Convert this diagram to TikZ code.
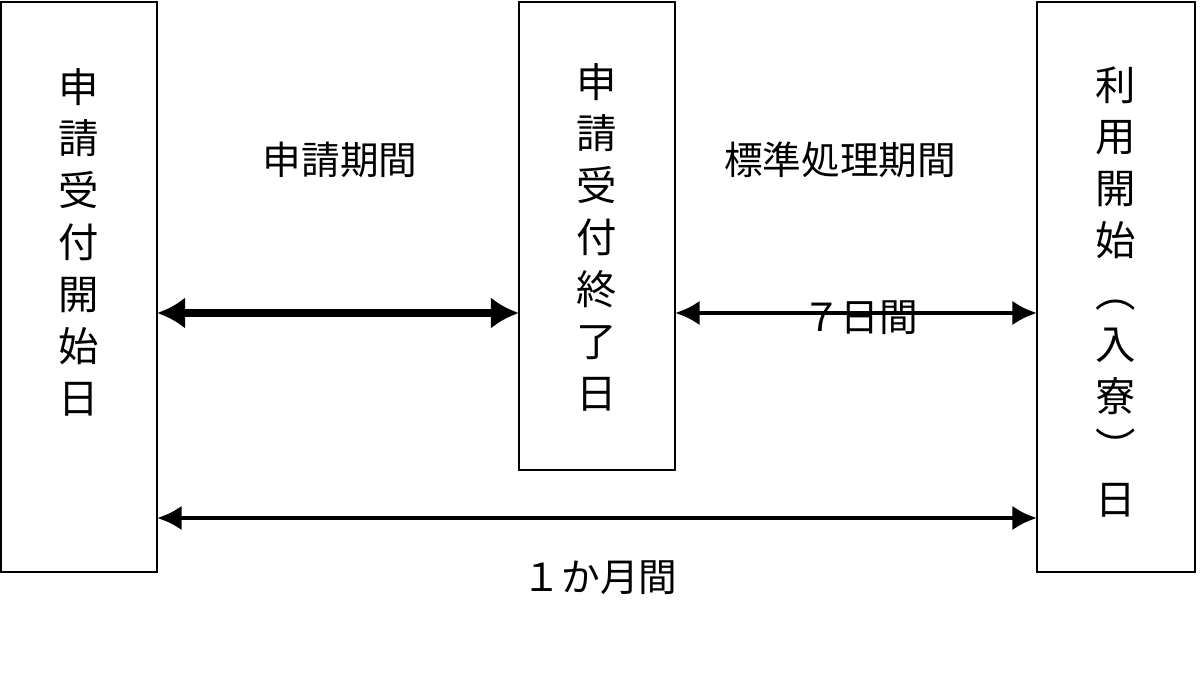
\documentclass[tikz,border=0pt]{standalone}
\usepackage{fontspec}
\setmainfont{Noto Sans CJK JP}
\usetikzlibrary{arrows.meta, positioning}

\begin{document}
\begin{tikzpicture}[x=0.02cm, y=-0.02cm,
  daybox/.style={draw=black, line width=1.6pt},
  vtext/.style={align=center, font=\fontsize{23}{29.5}\selectfont},
  label/.style={font=\fontsize{22}{26}\selectfont},
  thickarrow/.style={{Latex[length=16pt,width=18pt]}-{Latex[length=16pt,width=18pt]}, line width=5pt},
  thinarrow/.style={{Latex[length=14pt,width=14pt]}-{Latex[length=14pt,width=14pt]}, line width=2.5pt}
]
\useasboundingbox (0,0) rectangle (1200,678);

% boxes
\draw[daybox] (1,2) rectangle (157,572);
\draw[daybox] (519,2) rectangle (675,470);
\draw[daybox] (1037,2) rectangle (1195,572);

\node[vtext] (start) at (79,242) {申\\請\\受\\付\\開\\始\\日};
\node[vtext] (close) at (597,237) {申\\請\\受\\付\\終\\了\\日};
\node[vtext] (use) at (1116,292) {利\\用\\開\\始\\︵\\入\\寮\\︶\\日};

\coordinate (s1) at (157,313);
\coordinate (c1) at (519,313);
\coordinate (c2) at (675,313);
\coordinate (u1) at (1037,313);
\coordinate (s2) at (157,518);
\coordinate (u2) at (1037,518);

\draw[thickarrow] (s1) -- (c1);
\draw[thinarrow] (c2) -- (u1);
\draw[thinarrow] (s2) -- (u2);

\node[label] (period) at (340,160) {申請期間};
\node[label] (std) at (840,160) {標準処理期間};
\node[label] (days) at (860,318) {７日間};
\node[label] (month) at (600,578) {１か月間};
\end{tikzpicture}
\end{document}
